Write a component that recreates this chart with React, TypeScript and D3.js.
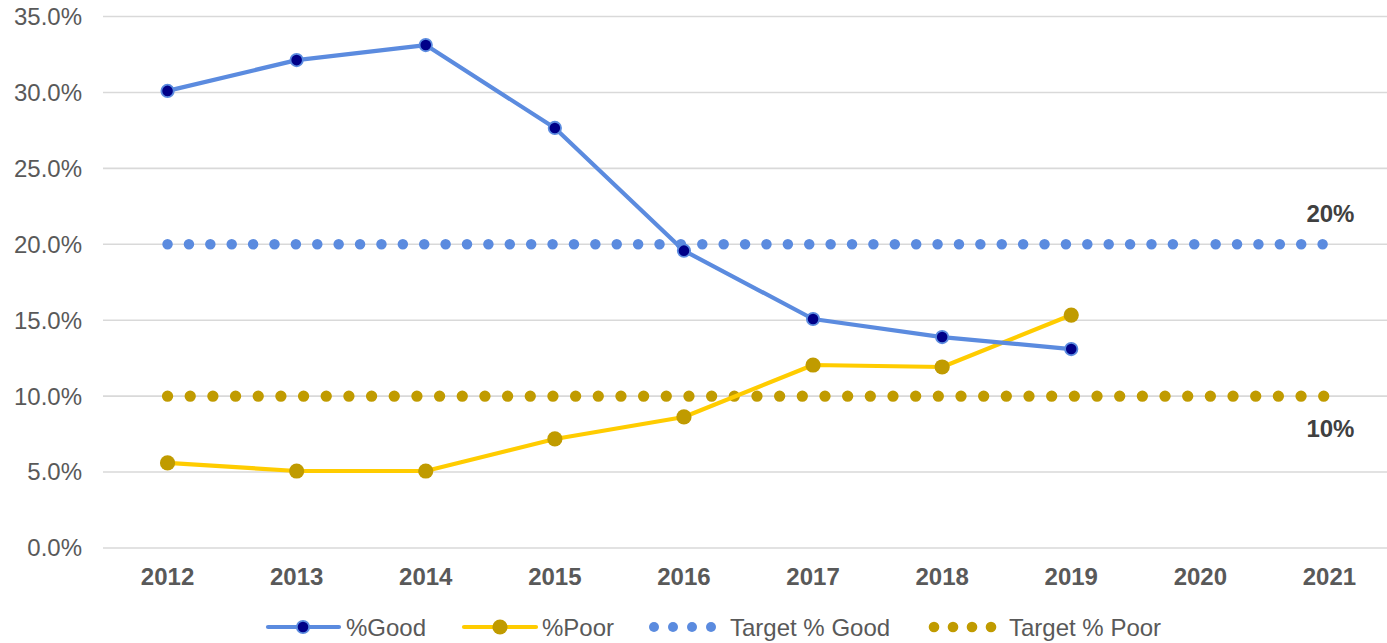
import React from "react";
import * as d3 from "d3";

const years = ["2012", "2013", "2014", "2015", "2016", "2017", "2018", "2019", "2020", "2021"];
const goodValues = [0.301, 0.3213, 0.3312, 0.2766, 0.1958, 0.1508, 0.1389, 0.131];
const poorValues = [0.056, 0.0507, 0.0507, 0.0718, 0.0863, 0.1205, 0.1192, 0.1534];
const targetGood = years.map(() => 0.2);
const targetPoor = years.map(() => 0.1);
const yTicks = [0, 0.05, 0.1, 0.15, 0.2, 0.25, 0.3, 0.35];

const W = 1387;
const H = 643;
const FONT = "'Liberation Sans', Arial, sans-serif";
const FS = 24;
const BLUE = "#5b8bdf";
const NAVY = "#000088";
const YELLOW = "#ffcc00";
const GOLD = "#c09b00";

export default function App() {
  const x = d3.scalePoint<string>().domain(years).range([103, 1394]).padding(0.5);
  const y = d3.scaleLinear().domain([0, 0.35]).range([548, 16.5]);

  const line = d3
    .line<number>()
    .x((_, i) => x(years[i]) as number)
    .y((d) => y(d));

  const x1 = x(years[years.length - 1]) as number;

  return (
    <svg
      width={W}
      height={H}
      style={{ position: "absolute", left: 0, top: 0, background: "#fff" }}
      fontFamily={FONT}
    >
      <rect width={W} height={H} fill="#fff" />
      {yTicks.map((t) => (
        <g key={t}>
          <line x1={103} x2={W} y1={y(t)} y2={y(t)} stroke="#d9d9d9" strokeWidth={1.6} />
          <text x={82} y={y(t)} dy="0.35em" textAnchor="end" fontSize={FS} fill="#595959">
            {(t * 100).toFixed(1) + "%"}
          </text>
        </g>
      ))}
      {years.map((yr) => (
        <text
          key={yr}
          x={x(yr)}
          y={584.5}
          textAnchor="middle"
          fontSize={FS}
          fontWeight="bold"
          fill="#595959"
        >
          {yr}
        </text>
      ))}
      {/* targets */}
      <path
        d={line(targetGood) as string}
        fill="none"
        stroke={BLUE}
        strokeWidth={10.5}
        strokeLinecap="round"
        strokeDasharray="0 21.39"
      />
      <path
        d={line(targetPoor) as string}
        fill="none"
        stroke={GOLD}
        strokeWidth={11.3}
        strokeLinecap="round"
        strokeDasharray="0 22.67"
      />
      {/* actual lines */}
      <path d={line(poorValues) as string} fill="none" stroke={YELLOW} strokeWidth={4.2} strokeLinejoin="round" />
      <path d={line(goodValues) as string} fill="none" stroke={BLUE} strokeWidth={4.2} strokeLinejoin="round" />
      {poorValues.map((v, i) => (
        <circle key={"p" + i} cx={x(years[i])} cy={y(v)} r={7.6} fill={GOLD} />
      ))}
      {goodValues.map((v, i) => (
        <circle key={"g" + i} cx={x(years[i])} cy={y(v)} r={6.2} fill={NAVY} stroke={BLUE} strokeWidth={1.8} />
      ))}
      {/* labels */}
      <text x={x1 + 1} y={221.7} textAnchor="middle" fontSize={FS} fontWeight="bold" fill="#404040">
        20%
      </text>
      <text x={x1 + 1} y={436.7} textAnchor="middle" fontSize={FS} fontWeight="bold" fill="#404040">
        10%
      </text>
      {/* legend */}
      <g>
        <line x1={268} x2={339} y1={627} y2={627} stroke={BLUE} strokeWidth={4.2} strokeLinecap="round" />
        <circle cx={303} cy={627} r={6.2} fill={NAVY} stroke={BLUE} strokeWidth={1.8} />
        <text x={346} y={635.5} fontSize={FS} fill="#595959">%Good</text>

        <line x1={464} x2={536} y1={627} y2={627} stroke={YELLOW} strokeWidth={4.2} strokeLinecap="round" />
        <circle cx={500} cy={627} r={7.6} fill={GOLD} />
        <text x={542} y={635.5} fontSize={FS} fill="#595959">%Poor</text>

        {[654, 673, 692, 711].map((cx) => (
          <circle key={"tg" + cx} cx={cx} cy={627} r={5} fill={BLUE} />
        ))}
        <text x={730} y={635.5} fontSize={FS} fill="#595959">Target % Good</text>

        {[934, 953, 972, 991].map((cx) => (
          <circle key={"tp" + cx} cx={cx} cy={627} r={5.3} fill={GOLD} />
        ))}
        <text x={1009} y={635.5} fontSize={FS} fill="#595959">Target % Poor</text>
      </g>
    </svg>
  );
}
